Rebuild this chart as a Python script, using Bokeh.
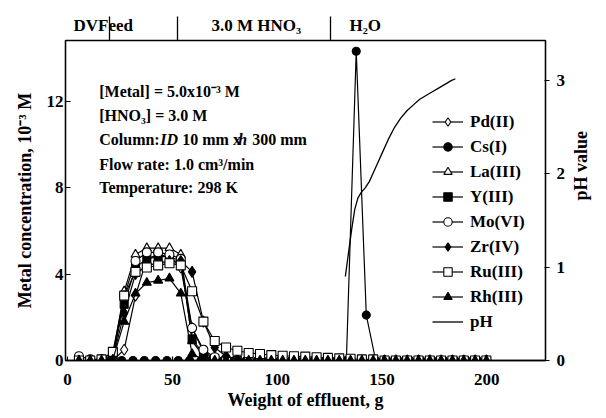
from bokeh.plotting import figure
from bokeh.models import Range1d, LinearAxis, FixedTicker, Legend, LegendItem
from bokeh.core.properties import value
from bokeh.embed import file_html
from bokeh.resources import INLINE

FONT = "Liberation Serif"

# ---- data ----
x_metal = [5.4, 10.8, 16.2, 21.6, 27.0, 32.4, 37.8, 43.2, 48.6, 54.0, 59.4, 64.8,
           70.2, 75.6, 81.0, 86.4, 91.8, 97.2, 102.6, 108.0, 113.4, 118.8, 124.2,
           129.6, 135.0, 140.4, 145.8, 151.2, 156.6, 162.0, 167.4, 172.8, 178.2,
           183.6, 189.0, 194.4, 199.8]

pd_ii = [0, 0, 0, 0, 0.5, 3.0, 4.7, 4.9, 4.8, 4.3, 1.5, 0.4, 0.1, 0.05,
         0, 0, 0, 0, 0, 0, 0, 0, 0, 0, 0, 0, 0, 0, 0, 0, 0, 0, 0, 0, 0, 0, 0]
la_iii = [0, 0, 0, 0.2, 3.2, 4.9, 5.2, 5.2, 5.2, 4.9, 0.9, 0.2, 0.05, 0,
          0, 0, 0, 0, 0, 0, 0, 0, 0, 0, 0, 0, 0, 0, 0, 0, 0, 0, 0, 0, 0, 0, 0]
y_iii = [0, 0, 0, 0.3, 2.6, 4.3, 4.7, 4.8, 4.8, 4.6, 1.0, 0.3, 0.1, 0,
         0, 0, 0, 0, 0, 0, 0, 0, 0, 0, 0, 0, 0, 0, 0, 0, 0, 0, 0, 0, 0, 0, 0]
mo_vi = [0.2, 0.05, 0.05, 0.05, 3.0, 4.6, 5.0, 5.0, 4.9, 4.7, 1.5, 0.5, 0.15, 0.05,
         0, 0, 0, 0, 0, 0, 0, 0, 0, 0, 0, 0, 0, 0, 0, 0, 0, 0, 0, 0, 0, 0, 0]
zr_iv = [0, 0, 0, 0.1, 2.2, 4.0, 4.4, 4.5, 4.6, 4.6, 4.1, 1.8, 0.6, 0.2, 0.05,
         0, 0, 0, 0, 0, 0, 0, 0, 0, 0, 0, 0, 0, 0, 0, 0, 0, 0, 0, 0, 0, 0]
ru_iii = [0, 0, 0.05, 0.4, 3.0, 4.1, 4.3, 4.4, 4.5, 4.4, 3.2, 1.8, 0.9, 0.6, 0.45,
          0.35, 0.3, 0.25, 0.22, 0.2, 0.18, 0.15, 0.12, 0.1, 0.08, 0.05, 0.05,
          0, 0, 0, 0, 0, 0, 0, 0, 0, 0]
rh_iii = [0, 0, 0, 0.05, 1.8, 3.1, 3.6, 3.7, 3.8, 3.1, 0.3, 0.05, 0,
          0, 0, 0, 0, 0, 0, 0, 0, 0, 0, 0, 0, 0, 0, 0, 0, 0, 0, 0, 0, 0, 0, 0, 0]

cs_x = [25.8, 31.2, 36.6, 42.0, 47.4, 52.8, 58.2, 63.6, 69.0, 74.4, 79.8, 85.2,
        90.6, 96.0, 101.4, 106.8, 112.2, 117.6, 123.0, 128.4, 133.0, 137.7, 142.5,
        147.0, 152.4, 157.8, 163.2, 168.6, 174.0, 179.4, 184.8, 190.2, 195.6]
cs_i = [0, 0, 0, 0, 0, 0, 0, 0, 0, 0, 0, 0, 0, 0, 0, 0, 0, 0, 0, 0, 0, 14.3, 2.1,
        0, 0, 0, 0, 0, 0, 0, 0, 0, 0]

ph_x = [132.5, 134, 135.5, 137, 138.5, 140, 142, 144, 146, 148, 150, 153, 156,
        159, 162, 165, 168, 171, 174, 177, 180, 183, 185]
ph_y = [0.9, 1.15, 1.4, 1.62, 1.74, 1.8, 1.85, 1.92, 2.02, 2.12, 2.22, 2.37, 2.5,
        2.6, 2.68, 2.74, 2.8, 2.84, 2.88, 2.92, 2.96, 3.0, 3.02]

x_ticks = [0, 50, 100, 150, 200]
y_ticks = [0, 4, 8, 12]
ph_ticks = [0, 1, 2, 3]

header_pos = [17, 90, 142]
header_labels = ["DVFeed", "3.0 M HNO\u2083", "H\u2082O"]
header_seps = [19.8, 52.4, 125.5]

# ---- figure ----
p = figure(width=604, height=416, x_range=Range1d(-1, 228), y_range=Range1d(0, 14.8),
           output_backend="svg", toolbar_location=None,
           min_border_left=65, min_border_right=54, min_border_top=40, min_border_bottom=56)
p.xgrid.visible = False
p.ygrid.visible = False
p.outline_line_color = "black"
p.outline_line_width = 1.3
p.background_fill_color = "white"
p.extra_y_ranges = {"ph": Range1d(0, 3.43)}


def style_axis(ax):
    ax.axis_line_color = "black"
    ax.axis_line_width = 1.3
    ax.major_tick_line_color = "black"
    ax.major_tick_line_width = 1.2
    ax.minor_tick_line_color = None
    ax.major_label_text_font = FONT
    ax.major_label_text_font_style = "bold"
    ax.major_label_text_font_size = "17px"
    ax.major_label_text_color = "black"
    ax.axis_label_text_font = FONT
    ax.axis_label_text_font_style = "bold"
    ax.axis_label_text_font_size = "18px"
    ax.axis_label_text_color = "black"


xa = p.xaxis[0]
style_axis(xa)
xa.ticker = FixedTicker(ticks=x_ticks)
xa.axis_label = "Weight of effluent, g"
xa.major_tick_in = 4
xa.major_tick_out = 0
xa.major_label_standoff = 13
xa.axis_label_standoff = 2

ya = p.yaxis[0]
style_axis(ya)
ya.ticker = FixedTicker(ticks=y_ticks)
ya.axis_label = "Metal concentration, 10\u207b\u00b3 M"
ya.major_tick_in = 5
ya.major_tick_out = 0
ya.major_label_standoff = 2
ya.axis_label_standoff = 9

ra = LinearAxis(y_range_name="ph", ticker=FixedTicker(ticks=ph_ticks), axis_label="pH value")
style_axis(ra)
ra.major_tick_in = 1
ra.major_tick_out = 4
ra.major_label_standoff = 7
ra.axis_label_standoff = 13
ra.axis_label_orientation = 1.5707963
p.add_layout(ra, "right")

ta = LinearAxis(ticker=FixedTicker(ticks=header_pos, minor_ticks=header_seps))
style_axis(ta)
ta.major_label_overrides = {k: v for k, v in zip(header_pos, header_labels)}
ta.axis_line_color = None
ta.major_tick_line_color = None
ta.major_tick_out = 0
ta.major_tick_in = 0
ta.minor_tick_line_color = "black"
ta.minor_tick_line_width = 1.3
ta.minor_tick_out = 24
ta.minor_tick_in = 0
ta.major_label_standoff = -18
p.add_layout(ta, "above")

# ---- series ----
series = [
    ("Pd(II)", x_metal, pd_ii, "diamond", 11, "white"),
    ("Cs(I)", cs_x, cs_i, "circle", 8, "black"),
    ("La(III)", x_metal, la_iii, "triangle", 9, "white"),
    ("Y(III)", x_metal, y_iii, "square", 8, "black"),
    ("Mo(VI)", x_metal, mo_vi, "circle", 9, "white"),
    ("Zr(IV)", x_metal, zr_iv, "diamond", 11, "black"),
    ("Ru(III)", x_metal, ru_iii, "square", 9, "white"),
    ("Rh(III)", x_metal, rh_iii, "triangle", 9, "black"),
]

items = []
for name, xs, ys, marker, size, fill in series:
    ln = p.line(xs, ys, line_color="black", line_width=1.2)
    sc = p.scatter(xs, ys, marker=marker, size=size, fill_color=fill,
                   line_color="black", line_width=1.1)
    items.append(LegendItem(label=name, renderers=[ln, sc]))

phl = p.line(ph_x, ph_y, line_color="black", line_width=1.3, y_range_name="ph")
items.append(LegendItem(label="pH", renderers=[phl]))

legend = Legend(items=items, location=(367, 28), padding=0, margin=0,
                glyph_width=31, glyph_height=21, label_height=21, spacing=4,
                label_standoff=7, border_line_color=None, background_fill_alpha=0,
                label_text_font=FONT, label_text_font_style="bold",
                label_text_font_size="17px", label_text_color="black")
p.add_layout(legend)

# ---- conditions text block ----
tx = 15.1
common = dict(text_font=value(FONT), text_font_size="16px", text_baseline="middle",
              text_align="left", text_color="black")
p.text(x=[tx, tx, tx, tx, tx], y=[12.45, 11.34, 10.23, 9.07, 8.01],
       text=["[Metal] = 5.0x10\u207b\u00b3 M", "[HNO\u2083] = 3.0 M", "Column:",
             "Flow rate: 1.0 cm\u00b3/min", "Temperature: 298 K"],
       text_font_style="bold", **common)
p.text(x=[tx], y=[10.23], text=["ID"], x_offset=61, text_font_style="bold italic", **common)
p.text(x=[tx], y=[10.23], text=["10 mm x"], x_offset=83, text_font_style="bold", **common)
p.text(x=[tx], y=[10.23], text=["h"], x_offset=139, text_font_style="bold italic", **common)
p.text(x=[tx], y=[10.23], text=["300 mm"], x_offset=153, text_font_style="bold", **common)

open("out.html", "w").write(file_html(p, INLINE))
